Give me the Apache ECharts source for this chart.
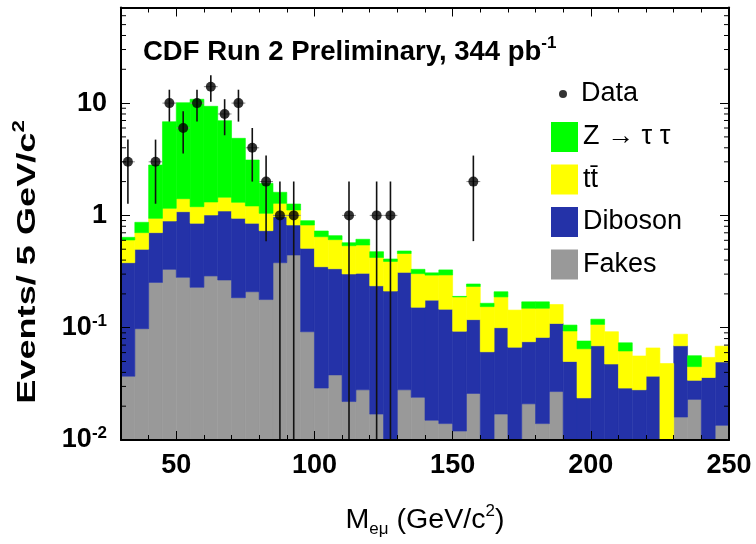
<!DOCTYPE html>
<html><head><meta charset="utf-8">
<script src="https://cdn.jsdelivr.net/npm/echarts@6/dist/echarts.min.js"></script>
<style>html,body{margin:0;padding:0;background:#fff}#c{width:756px;height:544px}</style>
</head><body><div id="c"></div>
<script>
// ---- data (bins of 5 GeV/c^2) ----
const binLow = [30,35,40,45,50,55,60,65,70,75,80,85,90,95,100,105,110,115,120,125,130,135,140,145,150,155,160,165,170,175,180,185,190,195,200,205,210,215,220,225,230,235,240,245];
const binWidth = 5;
const fakes = [0.037,0.098,0.253,0.331,0.281,0.229,0.289,0.266,0.185,0.209,0.178,0.379,0.444,0.092,0.029,0.038,0.022,0.028,0.017,0,0.028,0.024,0.015,0.014,0.012,0.026,0,0.017,0,0.021,0.014,0.027,0,0,0,0,0,0,0,0,0.016,0.023,0,0.0135];
const diboson = [0.342,0.401,0.449,0.560,0.798,0.622,0.719,0.828,0.757,0.642,0.553,0.595,0.377,0.417,0.320,0.297,0.279,0.277,0.219,0.212,0.283,0.128,0.161,0.132,0.081,0.092,0.061,0.083,0.067,0.054,0.068,0.082,0.050,0.0237,0.069,0.0475,0.029,0.028,0.037,0,0.053,0.011,0.036,0.036];
const ttbar = [0.225,0.203,0.240,0.265,0.329,0.344,0.308,0.358,0.366,0.362,0.313,0.307,0.296,0.312,0.297,0.273,0.236,0.240,0.186,0.177,0.147,0.151,0.118,0.149,0.095,0.115,0.093,0.088,0.0765,0.074,0.067,0.052,0.0435,0.0412,0.038,0.0446,0.033,0.028,0.029,0.048,0.0185,0.011,0.0184,0.019];
const ztautau = [0.034,0.166,1.869,5.67,8.67,9.62,8.05,5.52,3.55,1.90,0.887,0.325,0.146,0.076,0.080,0.052,0.034,0.068,0.053,0.020,0.024,0.028,0.014,0.032,0.002,0.012,0.011,0.021,0,0.021,0.021,0,0.012,0.0112,0.012,0,0.0114,0,0,0,0,0.0113,0,0];
const dataCenters = [32.5,42.5,47.5,52.5,57.5,62.5,67.5,72.5,77.5,82.5,87.5,92.5,112.5,122.5,127.5,157.5];
const dataCounts  = [3,3,10,6,10,14,8,10,4,2,1,1,1,1,1,2];
const dataErrors  = [1.73,1.73,3.16,2.45,3.16,3.74,2.83,3.16,2,1.41,1,1,1,1,1,1.41];
const seriesNames = ['Fakes','Diboson','t\u0074\u0304','Z \u2192 \u03c4 \u03c4'];
const seriesColors = ['#999999','#2432a8','#ffff00','#00ff00'];
const xMajorTicks = [50,100,150,200,250];
const yMinorTicks = [0.02,0.03,0.04,0.05,0.06,0.07,0.08,0.09,0.2,0.3,0.4,0.5,0.6,0.7,0.8,0.9,2,3,4,5,6,7,8,9,20,30,40,50,60,70];
const xRange = [30, 250];
const yRange = [0.01, 71];

// ---- build stacked boxes ----
const comps = [fakes, diboson, ttbar, ztautau];
const cum = binLow.map(() => 0);
const stackData = comps.map(arr => arr.map((v, i) => {
  const lo = cum[i]; cum[i] = lo + v;
  return [binLow[i], binLow[i] + binWidth, lo, cum[i]];
}));

function histItem(params, api) {
  const x0 = api.value(0), x1 = api.value(1), lo = api.value(2), hi = api.value(3);
  if (!(hi > lo) || hi <= yRange[0]) return null;
  const a = api.coord([x0, Math.max(lo, yRange[0])]);
  const b = api.coord([x1, Math.min(hi, yRange[1])]);
  const c = api.visual('color');
  return {type: 'rect', shape: {x: a[0], y: b[1], width: b[0] - a[0], height: a[1] - b[1]},
    style: {fill: c, stroke: c, lineWidth: 0.6}};
}
function errItem(params, api) {
  const x = api.value(0), n = api.value(1), e = api.value(2);
  const t = api.coord([x, n + e]);
  const b = api.coord([x, Math.max(n - e, yRange[0])]);
  const l = api.coord([x - binWidth / 2, n]);
  const r = api.coord([x + binWidth / 2, n]);
  return {type: 'group', children: [
    {type: 'line', shape: {x1: l[0], y1: l[1], x2: r[0], y2: r[1]}, style: {stroke: '#888', lineWidth: 1}},
    {type: 'line', shape: {x1: t[0], y1: t[1], x2: b[0], y2: b[1]}, style: {stroke: '#111', lineWidth: 1.6}}
  ]};
}
function minorTickItem(params, api) {
  const v = api.value(1);
  const l = api.coord([xRange[0], v]);
  const r = api.coord([xRange[1], v]);
  return {type: 'group', children: [
    {type: 'line', shape: {x1: l[0], y1: l[1], x2: l[0] + 5, y2: l[1]}, style: {stroke: '#000', lineWidth: 1}},
    {type: 'line', shape: {x1: r[0] - 5, y1: r[1], x2: r[0], y2: r[1]}, style: {stroke: '#000', lineWidth: 1}}
  ]};
}

const FONT = 'Liberation Sans, Arial, Helvetica, sans-serif';
const lineSt = {color: '#000', width: 2};
const tickSt = {color: '#000', width: 1};

const series = comps.map((arr, k) => ({
  type: 'custom', name: seriesNames[k], xAxisIndex: 0, yAxisIndex: 0,
  itemStyle: {color: seriesColors[k]}, renderItem: histItem,
  encode: {x: [0, 1], y: [2, 3]}, data: stackData[k], z: 2, silent: true
}));
series.push({
  type: 'custom', name: 'err', xAxisIndex: 0, yAxisIndex: 0, renderItem: errItem,
  encode: {x: 0, y: 1}, data: dataCenters.map((x, i) => [x, dataCounts[i], dataErrors[i]]), z: 3, silent: true
});
series.push({
  type: 'scatter', name: 'Data', xAxisIndex: 0, yAxisIndex: 0, symbol: 'circle', symbolSize: 10,
  itemStyle: {color: '#000'}, data: dataCenters.map((x, i) => [x, dataCounts[i]]), z: 4, silent: true
});
series.push({
  type: 'custom', name: 'minorTicks', xAxisIndex: 0, yAxisIndex: 0, renderItem: minorTickItem,
  encode: {x: 0, y: 1}, data: yMinorTicks.map(v => [xRange[0], v]), z: 6, silent: true
});

const option = {
  animation: false,
  backgroundColor: '#fff',
  textStyle: {fontFamily: FONT},
  title: {
    left: 143, top: 35, padding: 0,
    text: '{a|CDF Run 2 Preliminary, 344 pb}{b|-1}',
    textStyle: {rich: {
      a: {fontSize: 27.5, fontWeight: 'bold', fontFamily: FONT, color: '#000', lineHeight: 34},
      b: {fontSize: 17, fontWeight: 'bold', fontFamily: FONT, color: '#000', lineHeight: 17, verticalAlign: 'top'}
    }}
  },
  grid: {left: 121, right: 27, top: 7.5, bottom: 104, containLabel: false},
  legend: [
    {data: ['Data'], left: 559, top: 79, padding: 0, orient: 'vertical', icon: 'circle', itemWidth: 26, itemHeight: 8,
      selectedMode: false, textStyle: {fontSize: 27, fontFamily: FONT, color: '#000', lineHeight: 30}},
    {data: [seriesNames[3], seriesNames[2], seriesNames[1], seriesNames[0]], left: 551, top: 122, padding: 0, orient: 'vertical',
      icon: 'rect', itemWidth: 27, itemHeight: 30, itemGap: 12.5, selectedMode: false,
      textStyle: {fontSize: 27, fontFamily: FONT, color: '#000', lineHeight: 30}}
  ],
  xAxis: [
    {type: 'value', min: xRange[0], max: xRange[1], interval: 10, position: 'bottom', z: 5,
      axisLine: {show: true, lineStyle: lineSt}, axisTick: {inside: true, length: 5, lineStyle: tickSt},
      axisLabel: {show: false}, splitLine: {show: false}},
    {type: 'value', min: xRange[0], max: xRange[1], position: 'bottom', z: 5,
      axisLine: {show: false}, axisTick: {inside: true, length: 9, customValues: xMajorTicks, lineStyle: tickSt},
      axisLabel: {customValues: xMajorTicks, fontSize: 27, fontWeight: 'bold', fontFamily: FONT, color: '#000', margin: 12},
      splitLine: {show: false}},
    {type: 'value', min: xRange[0], max: xRange[1], interval: 10, position: 'top', z: 5,
      axisLine: {show: true, lineStyle: lineSt}, axisTick: {inside: true, length: 5, lineStyle: tickSt},
      axisLabel: {show: false}, splitLine: {show: false}},
    {type: 'value', min: xRange[0], max: xRange[1], position: 'top', z: 5,
      axisLine: {show: false}, axisTick: {inside: true, length: 9, customValues: xMajorTicks, lineStyle: tickSt},
      axisLabel: {show: false}, splitLine: {show: false}}
  ],
  yAxis: [
    {type: 'log', logBase: 10, min: yRange[0], max: yRange[1], position: 'left', z: 5,
      axisLine: {show: true, lineStyle: lineSt}, axisTick: {inside: true, length: 9, lineStyle: tickSt},
      splitLine: {show: false},
      axisLabel: {margin: 14, showMaxLabel: false,
        formatter: v => {
          const lg = Math.log10(v), e = Math.round(lg);
          if (Math.abs(lg - e) > 1e-6) return '';
          if (e === 0) return '{b|1}';
          if (e === 1) return '{b|10}';
          return '{b|10}{s|' + e + '}';
        },
        rich: {
          b: {fontSize: 27, fontWeight: 'bold', fontFamily: FONT, color: '#000', lineHeight: 30},
          s: {fontSize: 17, fontWeight: 'bold', fontFamily: FONT, color: '#000', lineHeight: 17, verticalAlign: 'top'}
        }}},
    {type: 'log', logBase: 10, min: yRange[0], max: yRange[1], position: 'right', z: 5,
      axisLine: {show: true, lineStyle: lineSt}, axisTick: {inside: true, length: 9, lineStyle: tickSt},
      splitLine: {show: false}, axisLabel: {show: false}}
  ],
  graphic: [
    {type: 'text', x: 28, y: 262, rotation: Math.PI / 2, scaleX: 1.39, scaleY: 1, z: 10,
      style: {text: '{a|Events/ 5 GeV/c}{s|2}', align: 'center', verticalAlign: 'middle',
        rich: {
          a: {fontSize: 26, fontWeight: 'bold', fontFamily: FONT, fill: '#000', lineHeight: 32},
          s: {fontSize: 16, fontWeight: 'bold', fontFamily: FONT, fill: '#000', lineHeight: 16, verticalAlign: 'top'}
        }}},
    {type: 'text', x: 425, y: 521, scaleX: 1.06, z: 10,
      style: {text: '{m|M}{d|e\u03bc}{m| (GeV/c}{u|2}{m|)}', align: 'center', verticalAlign: 'middle',
        rich: {
          m: {fontSize: 27, fontFamily: FONT, fill: '#000', lineHeight: 34},
          d: {fontSize: 16, fontFamily: FONT, fill: '#000', lineHeight: 16, verticalAlign: 'bottom'},
          u: {fontSize: 16, fontFamily: FONT, fill: '#000', lineHeight: 16, verticalAlign: 'top'}
        }}}
  ],
  series: series
};
const chart = echarts.init(document.getElementById('c'), null, {renderer: 'canvas'});
chart.setOption(option);
</script>
</body></html>
